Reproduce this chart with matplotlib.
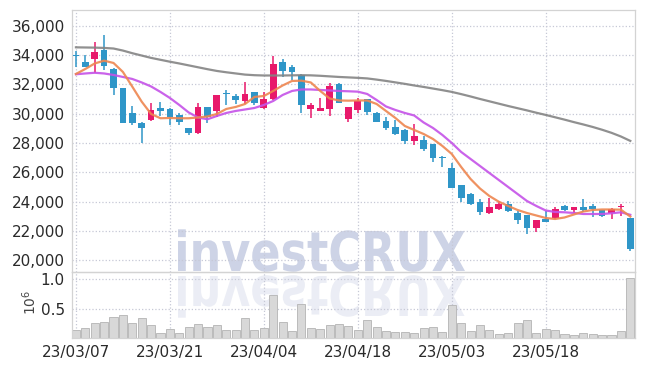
import matplotlib
matplotlib.use("Agg")
import matplotlib.pyplot as plt
from matplotlib.textpath import TextPath
from matplotlib.patches import PathPatch
from matplotlib.font_manager import FontProperties
from matplotlib.transforms import Affine2D

# daily prices, 23/03/07 .. 23/06/01
opens = [34000, 33550, 33750, 34340, 33050, 31730, 30020, 29340, 29570, 30380,
         30300, 29900, 29050, 28700, 30430, 30180, 31380, 31200, 30880, 31450,
         30360, 30980, 33500, 33160, 32640, 30320, 30200, 30340, 32000, 29640,
         30250, 30980, 30020, 29500, 29090, 28880, 28160, 28200, 27910, 27020,
         26310, 25130, 24500, 24000, 23230, 23480, 23860, 23200, 23060, 22180,
         22840, 22860, 23730, 23410, 23640, 23730, 23410, 23240, 23600, 22860]
highs = [34290, 34000, 34900, 35360, 33100, 31750, 30520, 29400, 30750, 30800,
         30350, 30020, 29050, 30700, 30480, 31300, 31600, 31340, 32180, 31500,
         31500, 33950, 33700, 33320, 32700, 30700, 31050, 32070, 32070, 30450,
         31050, 31000, 30100, 29790, 29570, 28950, 29270, 28500, 27950, 27130,
         26610, 25150, 24570, 24160, 24270, 24050, 24050, 23340, 23060, 22760,
         23340, 23620, 23800, 23650, 24180, 23840, 23430, 23560, 23870, 22860]
lows = [33200, 33160, 32800, 33000, 31270, 29350, 29250, 27980, 29500, 29850,
        29230, 29230, 28550, 28620, 29380, 29790, 30600, 30660, 30660, 30590,
        30300, 30900, 32520, 32300, 30020, 29680, 30180, 29840, 30700, 29450,
        30020, 29900, 29400, 28880, 28540, 27910, 27860, 27470, 26680, 26380,
        24900, 23950, 23800, 23100, 23160, 23450, 23300, 22500, 21770, 21950,
        22580, 22800, 23370, 23230, 23280, 22960, 22960, 22820, 23020, 20650]
closes = [33950, 33200, 34200, 33270, 31770, 29380, 29340, 29050, 30250, 30200,
          29750, 29400, 28650, 30430, 29790, 31270, 31320, 30930, 31340, 30750,
          30980, 33390, 32930, 32860, 30590, 30590, 30385, 31890, 30750, 30430,
          30860, 30130, 29450, 29040, 28610, 28130, 28500, 27570, 26955, 26980,
          24950, 24220, 23860, 23290, 23610, 23860, 23340, 22730, 22220, 22730,
          22610, 23480, 23410, 23640, 23410, 23530, 23020, 23530, 23710, 20800]

# moving averages as drawn
ma5 = [32704, 33045, 33420, 33611, 33454, 32841, 31838, 30815, 29976, 29683,
       29703, 29683, 29683, 29738, 29806, 29976, 30317, 30454, 30658, 31136,
       31204, 31545, 31920, 32227, 32247, 32125, 31545, 31033, 30897, 30883,
       30897, 30897, 30658, 30181, 29703, 29158, 28885, 28612, 28271, 27794,
       27248, 26362, 25543, 24895, 24384, 23995, 23702, 23429, 23224, 23054,
       22883, 22815, 22918, 23122, 23327, 23429, 23463, 23463, 23450, 22980]
ma20 = [32684, 32738, 32786, 32738, 32636, 32500, 32363, 32125, 31852, 31477,
        31067, 30590, 30079, 29738, 29615, 29840, 30044, 30181, 30283, 30385,
        30590, 30863, 31272, 31545, 31647, 31647, 31613, 31579, 31545, 31524,
        31497, 31340, 30931, 30488, 30249, 30044, 29874, 29397, 29021, 28544,
        27998, 27385, 26907, 26430, 25952, 25475, 24997, 24520, 24042, 23702,
        23395, 23293, 23272, 23224, 23156, 23156, 23156, 23204, 23272, 23100]
ma60 = [34520, 34510, 34500, 34480, 34440, 34300, 34120, 33960, 33800, 33670,
        33540, 33420, 33290, 33160, 33030, 32910, 32820, 32740, 32660, 32620,
        32600, 32600, 32600, 32610, 32620, 32610, 32580, 32540, 32500, 32470,
        32440, 32400, 32320, 32230, 32130, 32030, 31920, 31820, 31710, 31600,
        31480, 31330, 31170, 31000, 30840, 30680, 30520, 30370, 30220, 30060,
        29910, 29750, 29590, 29420, 29260, 29090, 28900, 28690, 28440, 28140]

# volume in millions of shares
volume = [0.143, 0.177, 0.263, 0.28, 0.349, 0.383, 0.263, 0.331, 0.229, 0.091,
          0.16, 0.091, 0.194, 0.246, 0.194, 0.229, 0.143, 0.143, 0.331, 0.143,
          0.177, 0.726, 0.28, 0.126, 0.571, 0.177, 0.16, 0.229, 0.246, 0.211,
          0.143, 0.297, 0.194, 0.126, 0.109, 0.109, 0.091, 0.177, 0.194, 0.109,
          0.56, 0.263, 0.126, 0.229, 0.143, 0.074, 0.091, 0.263, 0.297, 0.091,
          0.16, 0.143, 0.074, 0.057, 0.091, 0.074, 0.057, 0.057, 0.126, 1.017]

tick_pos = [0, 10, 20, 30, 40, 50]
tick_labels = ["23/03/07", "23/03/21", "23/04/04", "23/04/18", "23/05/03", "23/05/18"]
price_ticks = [20000, 22000, 24000, 26000, 28000, 30000, 32000, 34000, 36000]
vol_ticks = [0.5, 1.0]

UP = "#e8196b"
DOWN = "#2f96c8"
GRID = "#c6c8d6"
SPINE = "#d3d3d3"
FONT = ["Liberation Sans Narrow", "DejaVu Sans"]

plt.rcParams["font.family"] = FONT

W, H = 645, 366
fig = plt.figure(figsize=(W / 100, H / 100), dpi=100)
fig.patch.set_facecolor("white")

ax = fig.add_axes([71.7 / W, 1 - 272 / H, (635 - 71.7) / W, (272 - 9.5) / H])
axv = fig.add_axes([71.7 / W, 1 - 338 / H, (635 - 71.7) / W, (338 - 272) / H], sharex=ax)

for a in (ax, axv):
    a.set_facecolor("none")
    for s in a.spines.values():
        s.set_color(SPINE)
        s.set_linewidth(0.9)
    a.grid(True, color=GRID, linestyle=":", linewidth=0.9)
    a.set_axisbelow(True)
    a.tick_params(length=0, labelsize=11, labelcolor="#2a2a2a", pad=5)

# candles
n = len(closes)
idx = list(range(n))
colors = [UP if c >= o else DOWN for o, c in zip(opens, closes)]
bottoms = [min(o, c) for o, c in zip(opens, closes)]
heights = [max(abs(c - o), 60) for o, c in zip(opens, closes)]
ax.vlines(idx, lows, highs, colors=colors, linewidth=1.1, zorder=2)
ax.bar(idx, heights, bottom=bottoms, width=0.72, color=colors, zorder=3)

ax.plot(idx, ma60, color="#848484", linewidth=1.6, alpha=0.9, zorder=4)
ax.plot(idx, ma20, color="#c552e8", linewidth=1.6, alpha=0.9, zorder=4)
ax.plot(idx, ma5, color="#ee8650", linewidth=1.6, alpha=0.9, zorder=5)

ax.set_ylim(19200, 37100)
ax.set_yticks(price_ticks)
ax.set_yticklabels([f"{v:,}" for v in price_ticks])
ax.set_xlim(-0.45, n - 0.5)
ax.set_xticks(tick_pos)
ax.tick_params(axis="x", labelbottom=False)

# volume
axv.bar(idx, volume, width=0.86, color="#d8d8d8", edgecolor="#b4b4b4", linewidth=0.6, zorder=2)
axv.set_ylim(0, 1.12)
axv.set_yticks(vol_ticks)
axv.set_yticklabels(["0.5", "1.0"])
axv.set_xticks(tick_pos)
axv.set_xticklabels(tick_labels)
axv.tick_params(axis="x", pad=5)
fig.text(30 / W, 1 - 302 / H, r"$10^{6}$", rotation=90, ha="center", va="center",
         fontsize=10, color="#444444", family="DejaVu Sans")

# watermark with mirrored reflection
tp = TextPath((0, 0), "investCRUX", size=100, prop=FontProperties(family="DejaVu Sans", weight="bold"))
ext = tp.get_extents()
sx = (465 - 178) / ext.width
sy = 40 / 72.9
to_fig = Affine2D().scale(1 / W, 1 / H) + fig.transFigure
main_tr = Affine2D().translate(-ext.x0, 0).scale(sx, sy).translate(178, H - 271) + to_fig
refl_tr = Affine2D().translate(-ext.x0, 0).scale(sx, -sy).translate(178, H - 276) + to_fig
fig.add_artist(PathPatch(tp, transform=main_tr, facecolor="#cdd3e6", edgecolor="none", zorder=-1))
fig.add_artist(PathPatch(tp, transform=refl_tr, facecolor="#cdd3e6", edgecolor="none", alpha=0.4, zorder=-1))

fig.savefig("out.png", dpi=100)
